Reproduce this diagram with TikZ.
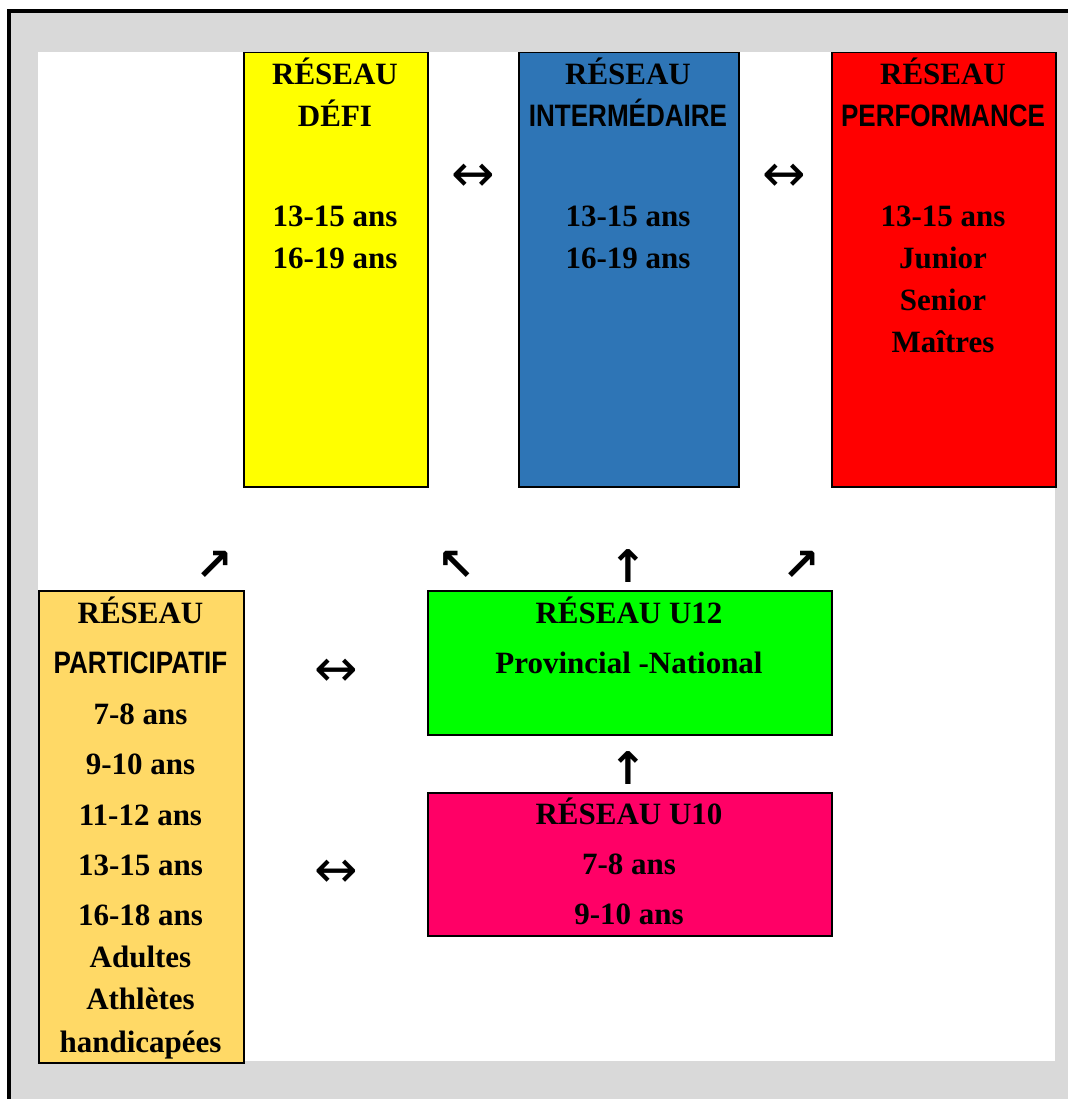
\documentclass[tikz,border=0pt]{standalone}
\usepackage{fontspec}
\setmainfont{Liberation Serif}
\newfontfamily\etroit[FakeStretch=0.84]{Liberation Sans}
\newfontfamily\fleches{DejaVu Sans}
\definecolor{fond}{HTML}{D9D9D9}
\definecolor{jaune}{HTML}{FFFF00}
\definecolor{bleu}{HTML}{2E75B6}
\definecolor{rouge}{HTML}{FF0000}
\definecolor{ocre}{HTML}{FFD966}
\definecolor{vert}{HTML}{00FF00}
\definecolor{rose}{HTML}{FF0066}
\tikzset{
  reseau/.style={draw=black,line width=1.5pt,anchor=north west,inner sep=0pt},
  ligne/.style={anchor=base,inner sep=0pt,font=\fontsize{31}{36}\selectfont\bfseries},
  fleche/.style={inner sep=0pt,font=\fleches\bfseries\fontsize{45}{45}\selectfont},
  fleche2/.style={inner sep=0pt,font=\fleches\fontsize{52}{52}\selectfont},
}

\begin{document}
\begin{tikzpicture}[x=1pt,y=-1pt]
  \useasboundingbox (0,0) rectangle (1068,1099);
  % cadre
  \fill[fond] (9,11) rectangle (1068,1099);
  \draw[line width=3.5pt] (9,1099) -- (9,11) -- (1068,11);
  \fill[white] (38,52) rectangle (1055,1061);

  % reseaux du haut
  \node[reseau,fill=jaune,minimum width=184pt,minimum height=434pt] (defi) at (243,52) {};
  \node[reseau,fill=bleu,minimum width=220pt,minimum height=434pt] (inter) at (518,52) {};
  \node[reseau,fill=rouge,minimum width=224pt,minimum height=434pt] (perf) at (831,52) {};
  \foreach \y/\t [count=\i] in {85/RÉSEAU,127/DÉFI,227/13-15 ans,268/16-19 ans}
    \node[ligne] (defi-\i) at (335,\y) {\t};
  \foreach \y/\t [count=\i] in {85/RÉSEAU,127/{\etroit INTERMÉDAIRE},227/13-15 ans,268/16-19 ans}
    \node[ligne] (inter-\i) at (628,\y) {\t};
  \foreach \y/\t [count=\i] in {85/RÉSEAU,127/{\etroit PERFORMANCE},227/13-15 ans,
      269/Junior,310/Senior,352/Maîtres}
    \node[ligne] (perf-\i) at (943,\y) {\t};

  % reseaux du bas
  \node[reseau,fill=ocre,minimum width=205pt,minimum height=472pt] (partic) at (38,590) {};
  \node[reseau,fill=vert,minimum width=404pt,minimum height=144pt] (u12) at (427,590) {};
  \node[reseau,fill=rose,minimum width=404pt,minimum height=143pt] (u10) at (427,792) {};
  \foreach \y/\t [count=\i] in {623/RÉSEAU,673/{\etroit PARTICIPATIF},724/7-8 ans,
      774/9-10 ans,825/11-12 ans,875/13-15 ans,925/16-18 ans,967/Adultes,
      1009/Athlètes,1052/handicapées}
    \node[ligne] (partic-\i) at (140.5,\y) {\t};
  \foreach \y/\t [count=\i] in {623/RÉSEAU U12,673/Provincial -National}
    \node[ligne] (u12-\i) at (629,\y) {\t};
  \foreach \y/\t [count=\i] in {824/RÉSEAU U10,874/7-8 ans,924/9-10 ans}
    \node[ligne] (u10-\i) at (629,\y) {\t};

  % fleches
  \node[fleche2] (f-di) at (473,178) {↔};
  \node[fleche2] (f-ip) at (784,178) {↔};
  \node[fleche2] (f-pu12) at (336,673) {↔};
  \node[fleche2] (f-pu10) at (336,874) {↔};
  \node[fleche] (f-pd) at (214,566) {↗};
  \node[fleche] (f-ud) at (456,566) {↖};
  \node[fleche] (f-ui) at (628,566) {↑};
  \node[fleche] (f-up) at (801,566) {↗};
  \node[fleche] (f-uu) at (628,768) {↑};
\end{tikzpicture}
\end{document}
